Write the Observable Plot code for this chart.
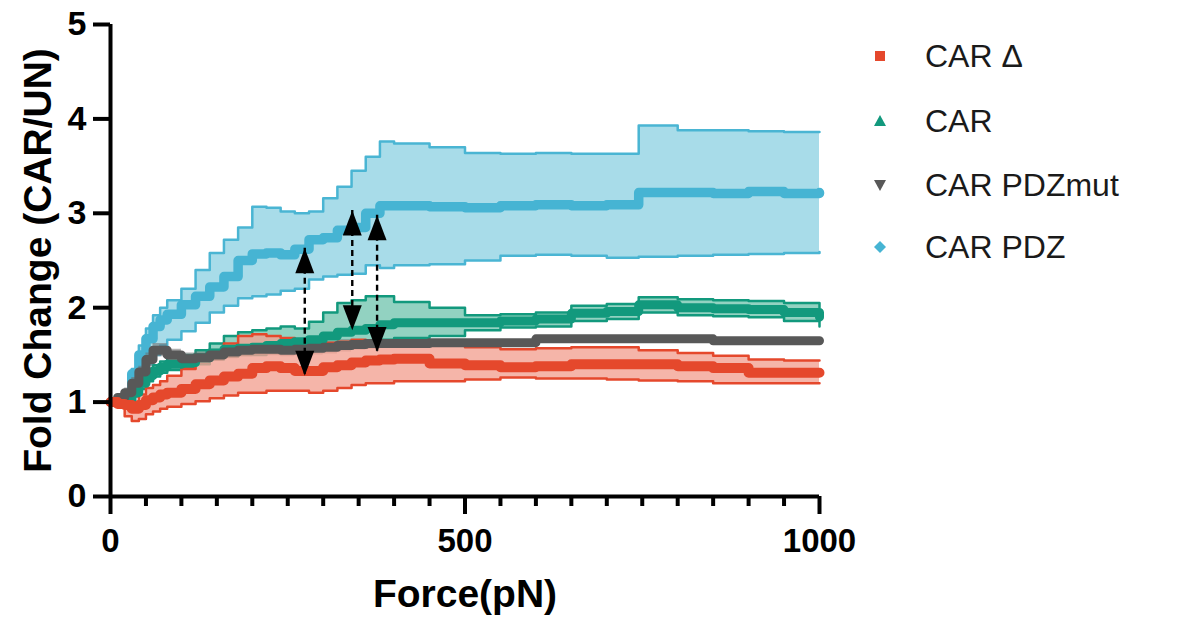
<!DOCTYPE html>
<html><head><meta charset="utf-8">
<script src="https://cdn.jsdelivr.net/npm/d3@7"></script>
<script src="https://cdn.jsdelivr.net/npm/@observablehq/plot@0.6"></script>
<style>
body{margin:0;background:#fff;}
#wrap{position:relative;width:1180px;height:622px;font-family:"Liberation Sans",Arial,sans-serif;}
.item{position:absolute;height:40px;line-height:40px;font-size:32px;color:#1a1a1a;white-space:nowrap;}
.item svg{position:absolute;left:0;top:10px;}
.item span{position:absolute;left:55px;top:0;}
</style></head><body><div id="wrap"></div>
<script>
// ---- data ----
const force = [0,10,20,30,40,50,60,70,80,100,120,140,160,180,200,220,240,260,280,300,320,340,360,380,400,450,500,550,600,650,700,745,800,850,900,950,1000];

const pdzMean = [1.00,1.00,1.02,1.30,1.50,1.67,1.80,1.87,1.93,2.03,2.12,2.22,2.33,2.50,2.57,2.58,2.56,2.62,2.72,2.74,2.82,2.85,3.00,3.08,3.08,3.07,3.06,3.08,3.09,3.08,3.09,3.22,3.22,3.21,3.23,3.21,3.22];
const pdzHi   = [1.00,1.00,1.05,1.35,1.60,1.78,1.92,2.00,2.08,2.20,2.40,2.58,2.72,2.85,3.07,3.06,3.02,3.00,3.02,3.16,3.28,3.45,3.60,3.76,3.74,3.70,3.64,3.63,3.64,3.63,3.63,3.93,3.88,3.88,3.87,3.86,3.86];
const pdzLo   = [1.00,1.00,1.00,1.15,1.25,1.40,1.50,1.60,1.66,1.75,1.84,1.95,2.02,2.10,2.12,2.14,2.18,2.20,2.30,2.33,2.35,2.36,2.45,2.42,2.45,2.46,2.50,2.55,2.56,2.55,2.53,2.54,2.55,2.56,2.57,2.58,2.59];

const carMean = [1.00,1.00,1.02,1.10,1.20,1.28,1.33,1.37,1.40,1.42,1.47,1.52,1.56,1.57,1.58,1.60,1.62,1.64,1.66,1.70,1.74,1.76,1.78,1.82,1.84,1.84,1.84,1.86,1.88,1.94,1.96,2.03,2.00,1.99,1.98,1.95,1.90];
const carHi   = [1.00,1.00,1.05,1.14,1.25,1.34,1.39,1.43,1.47,1.50,1.55,1.62,1.70,1.74,1.76,1.78,1.80,1.78,1.85,1.95,2.05,2.08,2.12,2.12,2.06,2.00,1.92,1.93,1.95,2.02,2.04,2.11,2.09,2.08,2.07,2.05,2.00];
const carLo   = [1.00,1.00,1.00,1.06,1.14,1.22,1.27,1.31,1.34,1.36,1.40,1.45,1.48,1.50,1.50,1.52,1.53,1.54,1.55,1.58,1.60,1.62,1.64,1.66,1.68,1.70,1.76,1.79,1.80,1.86,1.88,1.95,1.92,1.91,1.90,1.86,1.80];

const mutMean = [1.00,1.05,1.10,1.20,1.32,1.45,1.55,1.55,1.50,1.46,1.47,1.50,1.53,1.55,1.56,1.56,1.55,1.56,1.57,1.58,1.60,1.61,1.62,1.62,1.62,1.63,1.63,1.63,1.67,1.67,1.67,1.67,1.67,1.65,1.65,1.65,1.65];
const mutHi   = [1.00,1.08,1.15,1.26,1.38,1.52,1.62,1.62,1.56,1.52,1.53,1.56,1.59,1.61,1.62,1.62,1.61,1.62,1.63,1.64,1.66,1.66,1.66,1.66,1.65,1.65,1.65,1.65,1.69,1.69,1.69,1.69,1.69,1.67,1.67,1.67,1.67];
const mutLo   = [1.00,1.02,1.05,1.14,1.26,1.38,1.48,1.48,1.44,1.40,1.40,1.43,1.46,1.48,1.49,1.49,1.48,1.49,1.50,1.51,1.53,1.55,1.56,1.57,1.58,1.60,1.61,1.61,1.65,1.65,1.65,1.65,1.65,1.63,1.63,1.63,1.63];

const deltaMean = [1.00,0.98,0.97,0.93,0.97,1.02,1.05,1.08,1.10,1.14,1.19,1.23,1.27,1.30,1.36,1.38,1.36,1.33,1.33,1.37,1.39,1.42,1.44,1.45,1.46,1.41,1.39,1.37,1.38,1.40,1.40,1.40,1.38,1.36,1.31,1.31,1.31];
const deltaHi   = [1.00,1.00,1.00,1.00,1.08,1.15,1.18,1.22,1.28,1.35,1.45,1.55,1.62,1.70,1.72,1.70,1.68,1.66,1.64,1.63,1.64,1.66,1.65,1.64,1.62,1.60,1.58,1.56,1.57,1.58,1.58,1.55,1.52,1.49,1.45,1.44,1.44];
const deltaLo   = [1.00,0.95,0.85,0.80,0.82,0.87,0.90,0.93,0.95,0.98,1.01,1.04,1.07,1.10,1.10,1.12,1.12,1.12,1.10,1.12,1.15,1.18,1.20,1.20,1.22,1.22,1.24,1.26,1.25,1.25,1.24,1.23,1.22,1.20,1.20,1.20,1.20];

// significance arrows
const arrowX      = [274, 341, 376];
const arrowTop    = [2.63, 3.03, 2.98];
const arrowBottom = [1.28, 1.76, 1.53];

const yTicks = [0,1,2,3,4,5];
const xTicks = [0,500,1000];
const xMinor = [50,100,150,200,250,300,350,400,450,550,600,650,700,750,800,850,900,950];

const seriesNames = ["CAR \u0394","CAR","CAR PDZmut","CAR PDZ"];
const seriesColors = ["#E5482C","#12997D","#585858","#46B4D3"];

// ---- build ----
const rows = force.map((f,i)=>({f,
  pdzMean:pdzMean[i],pdzHi:pdzHi[i],pdzLo:pdzLo[i],
  carMean:carMean[i],carHi:carHi[i],carLo:carLo[i],
  mutMean:mutMean[i],mutHi:mutHi[i],mutLo:mutLo[i],
  deltaMean:deltaMean[i],deltaHi:deltaHi[i],deltaLo:deltaLo[i]}));
const arrows = arrowX.map((x,i)=>({x, top:arrowTop[i], bottom:arrowBottom[i]}));

const cur = "step-after";
function band(key, fill, op, edge){
  const m = [Plot.areaY(rows,{x:"f",y1:key+"Lo",y2:key+"Hi",fill,fillOpacity:op,curve:cur})];
  if (edge) {
    m.push(Plot.line(rows,{x:"f",y:key+"Hi",stroke:edge,strokeWidth:2.5,curve:cur}));
    m.push(Plot.line(rows,{x:"f",y:key+"Lo",stroke:edge,strokeWidth:2.5,curve:cur}));
  }
  return m;
}
function mean(key, color, w){
  return Plot.line(rows,{x:"f",y:key+"Mean",stroke:color,strokeWidth:w,curve:cur});
}
const upHead = {draw(ctx){ctx.moveTo(0,0);ctx.lineTo(9.5,25);ctx.lineTo(-9.5,25);ctx.closePath();}};
const downHead = {draw(ctx){ctx.moveTo(0,0);ctx.lineTo(9.5,-25);ctx.lineTo(-9.5,-25);ctx.closePath();}};

const font = "Liberation Sans, Arial, sans-serif";
const fmt = d => String(d);
const chart = Plot.plot({
  width:1180, height:622,
  marginLeft:110, marginRight:361, marginTop:24, marginBottom:126,
  style:{fontFamily:font, background:"#fff", color:"#111"},
  x:{domain:[0,1000]},
  y:{domain:[0,5]},
  marks:[
    ...band("pdz","#A8DCE9",1,"#4AB5D3"),
    mean("pdz",seriesColors[3],9.5),
    ...band("car","#86CDBA",0.9,"#12997D"),
    ...band("mut","#6E6E6E",0.55,null),
    ...band("delta","#F2A293",0.8,"#E5482C"),
    mean("car",seriesColors[1],9),
    mean("mut",seriesColors[2],9),
    mean("delta",seriesColors[0],10),
    Plot.ruleX(arrows,{x:"x",y1:"top",y2:"bottom",stroke:"#000",strokeWidth:2.4,strokeDasharray:"6,4"}),
    Plot.dot(arrows,{x:"x",y:"top",symbol:upHead,r:5,fill:"#000",stroke:"none"}),
    Plot.dot(arrows,{x:"x",y:"bottom",symbol:downHead,r:5,fill:"#000",stroke:"none"}),
    Plot.ruleY([0],{stroke:"#000",strokeWidth:4}),
    Plot.ruleX([0],{stroke:"#000",strokeWidth:4}),
    Plot.axisY({ticks:yTicks,tickFormat:fmt,tickSize:17,tickPadding:7,fontSize:34,fontWeight:"bold",strokeWidth:4,stroke:"#000",fill:"#000",label:null}),
    Plot.axisX({ticks:xTicks,tickFormat:fmt,tickSize:18,tickPadding:14,fontSize:33,fontWeight:"bold",strokeWidth:4,stroke:"#000",fill:"#000",label:null}),
    Plot.axisX({ticks:xMinor,tickSize:10,tickFormat:()=>"",strokeWidth:4,stroke:"#000",label:null}),
    Plot.text(["Force(pN)"],{frameAnchor:"bottom",dy:110,fontSize:39,fontWeight:"bold",fill:"#000"}),
    Plot.text(["Fold Change (CAR/UN)"],{frameAnchor:"left",textAnchor:"middle",dx:-72,rotate:-90,fontSize:39,fontWeight:"bold",fill:"#000"})
  ]
});
const wrap = document.getElementById("wrap");
wrap.appendChild(chart);

// legend
const legendY = [56,121,185,247];
const shapes = [
  c=>`<rect x="5" y="5" width="10" height="10" fill="${c}"/>`,
  c=>`<path d="M10 4 L16 15 L4 15 Z" fill="${c}"/>`,
  c=>`<path d="M10 16 L16 5 L4 5 Z" fill="${c}"/>`,
  c=>`<path d="M10 4 L16 10 L10 16 L4 10 Z" fill="${c}"/>`
];
seriesNames.forEach((n,i)=>{
  const d = document.createElement("div");
  d.className="item";
  d.style.left="870px";
  d.style.top=(legendY[i]-20)+"px";
  d.innerHTML=`<svg width="20" height="20">${shapes[i](seriesColors[i])}</svg><span>${n}</span>`;
  wrap.appendChild(d);
});
</script>
</body></html>
